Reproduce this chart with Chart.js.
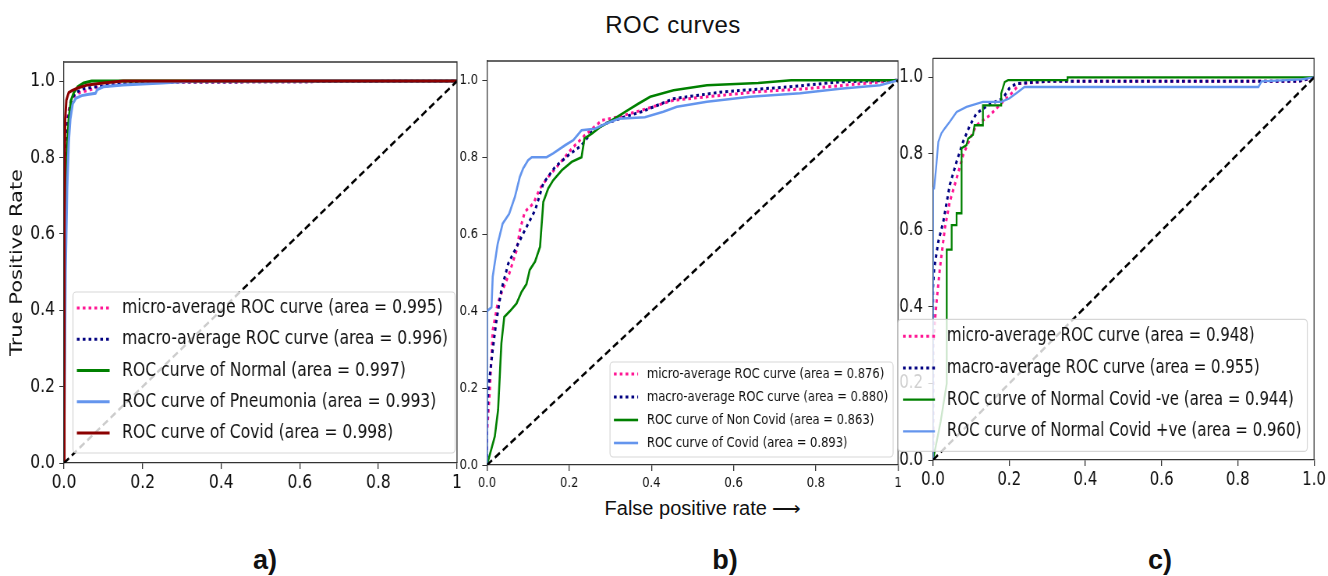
<!DOCTYPE html>
<html>
<head>
<meta charset="utf-8">
<script src="https://cdn.jsdelivr.net/npm/chart.js@4.4.1/dist/chart.umd.min.js"></script>
<style>
  body { margin: 0; background: #fff; width: 1328px; height: 576px; overflow: hidden; position: relative; }
  .panel { position: absolute; top: 40px; transform: scaleX(0.78); transform-origin: 0 0; }
  .txt { position: absolute; font-family: 'Liberation Sans', Arial, sans-serif; color: #111; white-space: nowrap; transform: translate(-50%, -50%); }
  .lab { font-weight: bold; font-size: 27px; top: 560px; }
</style>
</head>
<body>
<div class="txt" style="left:673px; top:25px; font-size:24px; letter-spacing:0.5px">ROC curves</div>
<div class="txt" style="left:703px; top:508px; font-size:20px">False positive rate ⟶</div>
<div class="txt lab" style="left:265px">a)</div>
<div class="txt lab" style="left:725px">b)</div>
<div class="txt lab" style="left:1160px">c)</div>

<div class="panel" style="left:0px"><canvas id="chartA" width="604" height="480"></canvas></div>
<div class="panel" style="left:450px"><canvas id="chartB" width="592" height="480"></canvas></div>
<div class="panel" style="left:895px"><canvas id="chartC" width="555" height="480"></canvas></div>

<script>
// tick labels
const yTicks = ['0.0', '0.2', '0.4', '0.6', '0.8', '1.0']
const abXTicks = ['0.0', '0.2', '0.4', '0.6', '0.8', '1']
const cXTicks = ['0.0', '0.2', '0.4', '0.6', '0.8', '1.0']
const diagX = [0, 1]
const diagY = [0, 1]

// a) Normal / Pneumonia / Covid
const aLabels = ['micro-average ROC curve (area = 0.995)', 'macro-average ROC curve (area = 0.996)',
  'ROC curve of Normal (area = 0.997)', 'ROC curve of Pneumonia (area = 0.993)', 'ROC curve of Covid (area = 0.998)']
const aMicroX = [0, 0, 0.004, 0.008, 0.015, 0.025, 0.04, 0.06, 0.09, 0.13, 0.2, 1]
const aMicroY = [0, 0.55, 0.82, 0.9, 0.94, 0.96, 0.97, 0.975, 0.985, 0.99, 0.997, 1]
const aMacroX = [0, 0, 0.005, 0.01, 0.018, 0.03, 0.05, 0.08, 0.12, 0.2, 1]
const aMacroY = [0, 0.5, 0.8, 0.9, 0.95, 0.97, 0.98, 0.985, 0.99, 0.997, 1]
const aNormalX = [0, 0.002, 0.004, 0.008, 0.012, 0.018, 0.025, 0.035, 0.05, 0.07, 1]
const aNormalY = [0, 0.5, 0.7, 0.82, 0.9, 0.95, 0.97, 0.985, 0.995, 1, 1]
const aPneuX = [0, 0.004, 0.008, 0.012, 0.016, 0.022, 0.03, 0.045, 0.06, 0.08, 0.085, 0.1, 0.15, 0.25, 0.33, 1]
const aPneuY = [0, 0.5, 0.72, 0.84, 0.9, 0.94, 0.955, 0.962, 0.965, 0.968, 0.978, 0.985, 0.99, 0.995, 1, 1]
const aCovidX = [0, 0.001, 0.003, 0.006, 0.012, 0.02, 0.035, 0.06, 0.1, 0.15, 1]
const aCovidY = [0, 0.6, 0.9, 0.95, 0.97, 0.975, 0.982, 0.99, 0.995, 1, 1]

// b) Non Covid / Covid
const bLabels = ['micro-average ROC curve (area = 0.876)', 'macro-average ROC curve (area = 0.880)',
  'ROC curve of Non Covid (area = 0.863)', 'ROC curve of Covid (area = 0.893)']
const bMicroX = [0, 0, 0.007, 0.014, 0.026, 0.038, 0.054, 0.072, 0.08, 0.092, 0.113, 0.129, 0.149, 0.17, 0.206, 0.238, 0.28, 0.32, 0.376, 0.454, 0.535, 0.657, 0.778, 0.9, 1]
const bMicroY = [0, 0.083, 0.195, 0.35, 0.42, 0.455, 0.497, 0.558, 0.61, 0.658, 0.68, 0.719, 0.749, 0.775, 0.822, 0.857, 0.896, 0.905, 0.922, 0.948, 0.957, 0.97, 0.978, 0.99, 1]
const bMacroX = [0, 0, 0.003, 0.014, 0.022, 0.035, 0.052, 0.072, 0.092, 0.117, 0.137, 0.166, 0.198, 0.23, 0.255, 0.287, 0.336, 0.376, 0.454, 0.575, 0.737, 0.859, 1]
const bMacroY = [0, 0.1, 0.195, 0.3, 0.368, 0.455, 0.524, 0.567, 0.61, 0.662, 0.732, 0.775, 0.805, 0.831, 0.866, 0.887, 0.905, 0.918, 0.952, 0.97, 0.983, 0.996, 1]
const bNonCovidX = [0, 0.019, 0.027, 0.035, 0.042, 0.056, 0.072, 0.084, 0.096, 0.104, 0.117, 0.129, 0.137, 0.149, 0.161, 0.182, 0.206, 0.23, 0.237, 0.255, 0.275, 0.304, 0.336, 0.368, 0.397, 0.454, 0.535, 0.66, 0.74, 1]
const bNonCovidY = [0, 0.074, 0.143, 0.316, 0.385, 0.4, 0.42, 0.45, 0.47, 0.507, 0.529, 0.567, 0.684, 0.719, 0.74, 0.766, 0.788, 0.8, 0.848, 0.861, 0.878, 0.896, 0.918, 0.939, 0.957, 0.974, 0.987, 0.993, 1, 1]
const bCovidX = [0, 0, 0.011, 0.014, 0.026, 0.038, 0.054, 0.068, 0.08, 0.088, 0.1, 0.109, 0.145, 0.161, 0.19, 0.21, 0.23, 0.263, 0.287, 0.32, 0.384, 0.429, 0.462, 0.535, 0.64, 0.762, 0.859, 0.956, 1]
const bCovidY = [0, 0.4, 0.41, 0.49, 0.575, 0.627, 0.653, 0.697, 0.749, 0.771, 0.792, 0.8, 0.8, 0.81, 0.831, 0.844, 0.87, 0.874, 0.886, 0.9, 0.904, 0.918, 0.931, 0.944, 0.957, 0.966, 0.978, 0.987, 1]

// c) Normal Covid -ve / +ve
const cLabels = ['micro-average ROC curve (area = 0.948)', 'macro-average ROC curve (area = 0.955)',
  'ROC curve of Normal Covid -ve (area = 0.944)', 'ROC curve of Normal Covid +ve (area = 0.960)']
const cMicroX = [0, 0, 0.009, 0.018, 0.031, 0.044, 0.062, 0.079, 0.097, 0.114, 0.149, 0.183, 0.21, 0.227, 0.3, 0.96, 1]
const cMicroY = [0, 0.3, 0.41, 0.5, 0.605, 0.675, 0.736, 0.797, 0.84, 0.875, 0.901, 0.936, 0.962, 0.984, 0.99, 0.99, 1]
const cMacroX = [0, 0, 0.003, 0.014, 0.027, 0.044, 0.062, 0.079, 0.097, 0.114, 0.144, 0.183, 0.2, 0.218, 0.3, 0.96, 1]
const cMacroY = [0, 0.45, 0.5, 0.571, 0.623, 0.719, 0.78, 0.832, 0.875, 0.906, 0.927, 0.945, 0.971, 0.984, 0.99, 0.99, 1]
const cNegX = [0, 0.02, 0.036, 0.036, 0.049, 0.049, 0.062, 0.062, 0.075, 0.075, 0.088, 0.092, 0.105, 0.109, 0.131, 0.131, 0.179, 0.179, 0.188, 0.197, 0.353, 0.353, 1]
const cNegY = [0, 0.1, 0.2, 0.55, 0.55, 0.614, 0.614, 0.645, 0.645, 0.815, 0.823, 0.84, 0.85, 0.875, 0.875, 0.927, 0.927, 0.958, 0.988, 0.993, 0.993, 1, 1]
const cPosX = [0, 0, 0.003, 0.008, 0.014, 0.022, 0.031, 0.044, 0.062, 0.088, 0.131, 0.179, 0.2, 0.223, 0.24, 0.854, 0.862, 0.967, 1]
const cPosY = [0, 0.71, 0.71, 0.762, 0.832, 0.854, 0.867, 0.884, 0.91, 0.923, 0.936, 0.936, 0.945, 0.962, 0.975, 0.975, 0.99, 0.995, 1]

const PINK = '#ff1493', NAVY = '#000080', GREEN = '#008000', BLUE = '#6495ed', DARKRED = '#8b0000'

function pts(xs, ys) { return xs.map((x, i) => ({x: x, y: ys[i]})) }

function curve(label, xs, ys, color, width, dotted) {
  return {
    label: label, data: pts(xs, ys), borderColor: color, borderWidth: dotted ? 3 : width,
    borderDash: dotted ? [3.5, 4] : [], pointRadius: 0, tension: 0, fill: false
  }
}

function diag(width) {
  return {label: '', data: pts(diagX, diagY), borderColor: '#000', borderWidth: width,
    borderDash: [8, 4.5], pointRadius: 0, tension: 0, fill: false}
}

// matplotlib draws later lines on top
function stack(sets) {
  sets.forEach((d, i) => { d.order = sets.length - i })
  return sets
}

// top/right spines and legend box in the plot
const rocFrame = {
  id: 'rocFrame',
  afterDatasetsDraw(chart) {
    const {ctx, chartArea: a} = chart
    ctx.save()
    ctx.strokeStyle = '#333'
    ctx.lineWidth = 1.3
    ctx.beginPath()
    ctx.moveTo(a.left, a.top); ctx.lineTo(a.right, a.top); ctx.lineTo(a.right, a.bottom)
    ctx.stroke()
    ctx.restore()
  },
  afterDraw(chart, args, o) {
    if (!o.size) return
    const {ctx, chartArea: a} = chart
    const items = chart.data.datasets.filter(d => d.label)
    const x0 = a.left + o.left, y0 = a.top + o.top
    ctx.save()
    ctx.font = o.size + "px 'DejaVu Sans'"
    const tw = Math.max(...items.map(d => ctx.measureText(d.label).width))
    const w = o.textX + tw + o.padR
    const h = o.rowY + (items.length - 1) * o.rowH + o.padB
    ctx.beginPath()
    if (ctx.roundRect) ctx.roundRect(x0, y0, w, h, 4); else ctx.rect(x0, y0, w, h)
    ctx.fillStyle = 'rgba(255,255,255,0.8)'
    ctx.fill()
    ctx.strokeStyle = 'rgba(204,204,204,0.8)'
    ctx.lineWidth = 1.2
    ctx.stroke()
    items.forEach((d, i) => {
      const y = y0 + o.rowY + i * o.rowH
      ctx.beginPath()
      ctx.setLineDash(d.borderDash)
      ctx.lineWidth = d.borderWidth
      ctx.strokeStyle = d.borderColor
      ctx.moveTo(x0 + o.handleX, y); ctx.lineTo(x0 + o.handleX + o.handleLen, y)
      ctx.stroke()
      ctx.setLineDash([])
      ctx.fillStyle = '#111'
      ctx.textBaseline = 'middle'
      ctx.fillText(d.label, x0 + o.textX, y)
    })
    ctx.restore()
  }
}

function makeChart(id, datasets, p) {
  return new Chart(document.getElementById(id), {
    type: 'line',
    data: {datasets: datasets},
    plugins: [rocFrame],
    options: {
      responsive: false, animation: false, events: [],
      layout: {padding: {left: 0, top: p.padTop, right: p.padRight, bottom: p.padBottom}},
      plugins: {legend: {display: false}, tooltip: {enabled: false}, rocFrame: p.legend},
      scales: {
        x: {
          type: 'linear', min: 0, max: 1,
          afterFit: s => { s.height = 40 },
          grid: {drawOnChartArea: false, drawTicks: true, tickLength: 6, color: '#333', lineWidth: 1.3},
          border: {color: '#333', width: 1.3},
          ticks: {stepSize: 0.2, padding: p.xPad, color: '#111', maxRotation: 0,
            font: {family: 'DejaVu Sans', size: p.font}, callback: (v, i) => p.xTicks[i]}
        },
        y: {
          type: 'linear', min: 0, max: 1.05,
          afterFit: s => { s.width = p.axisW },
          title: p.yTitle ? {display: true, text: p.yTitle, color: '#111', padding: {top: 10, bottom: 0},
            font: {family: 'DejaVu Sans', size: 21}} : {display: false},
          grid: {drawOnChartArea: false, drawTicks: true, tickLength: 6, color: '#333', lineWidth: 1},
          border: {color: '#333', width: 1.3},
          ticks: {stepSize: 0.2, includeBounds: false, padding: p.yPad, color: '#111',
            font: {family: 'DejaVu Sans', size: p.font}, callback: (v, i) => yTicks[i]}
        }
      }
    }
  })
}

var chartA = makeChart('chartA', stack([
  curve(aLabels[0], aMicroX, aMicroY, PINK, 3, true),
  curve(aLabels[1], aMacroX, aMacroY, NAVY, 3, true),
  curve(aLabels[2], aNormalX, aNormalY, GREEN, 3),
  curve(aLabels[3], aPneuX, aPneuY, BLUE, 3),
  curve(aLabels[4], aCovidX, aCovidY, DARKRED, 3),
  diag(2.6)
]), {padTop: 22, padRight: 18.1, padBottom: 17, axisW: 82.05, font: 20, xPad: 2, yPad: 5.5,
  xTicks: abXTicks, yTitle: 'True Positive Rate',
  legend: {left: 11.5, top: 230, rowY: 16, rowH: 31.25, handleX: 5, handleLen: 42, textX: 63, padR: 9, padB: 20, size: 20}})

var chartB = makeChart('chartB', stack([
  curve(bLabels[0], bMicroX, bMicroY, PINK, 2.6, true),
  curve(bLabels[1], bMacroX, bMacroY, NAVY, 2.6, true),
  curve(bLabels[2], bNonCovidX, bNonCovidY, GREEN, 2.6),
  curve(bLabels[3], bCovidX, bCovidY, BLUE, 2.6),
  diag(2.6)
]), {padTop: 21, padRight: 17.6, padBottom: 15, axisW: 47.4, font: 14.8, xPad: 3, yPad: 5.5,
  xTicks: abXTicks,
  legend: {left: 157.7, top: 301, rowY: 12, rowH: 23, handleX: 5, handleLen: 31, textX: 47.4, padR: 6.4, padB: 14, size: 14.8}})

var chartC = makeChart('chartC', stack([
  curve(cLabels[0], cMicroX, cMicroY, PINK, 2.3, true),
  curve(cLabels[1], cMacroX, cMacroY, NAVY, 2.3, true),
  curve(cLabels[2], cNegX, cNegY, GREEN, 2.3),
  curve(cLabels[3], cPosX, cPosY, BLUE, 2.3),
  diag(2.6)
]), {padTop: 17, padRight: 15.3, padBottom: 20, axisW: 48.7, font: 19.2, xPad: 2.5, yPad: 6.8,
  xTicks: cXTicks,
  legend: {left: -44.9, top: 261, rowY: 17, rowH: 31.7, handleX: 6.4, handleLen: 41, textX: 62.8, padR: 7.7, padB: 20, size: 19.2}})
</script>
</body>
</html>
